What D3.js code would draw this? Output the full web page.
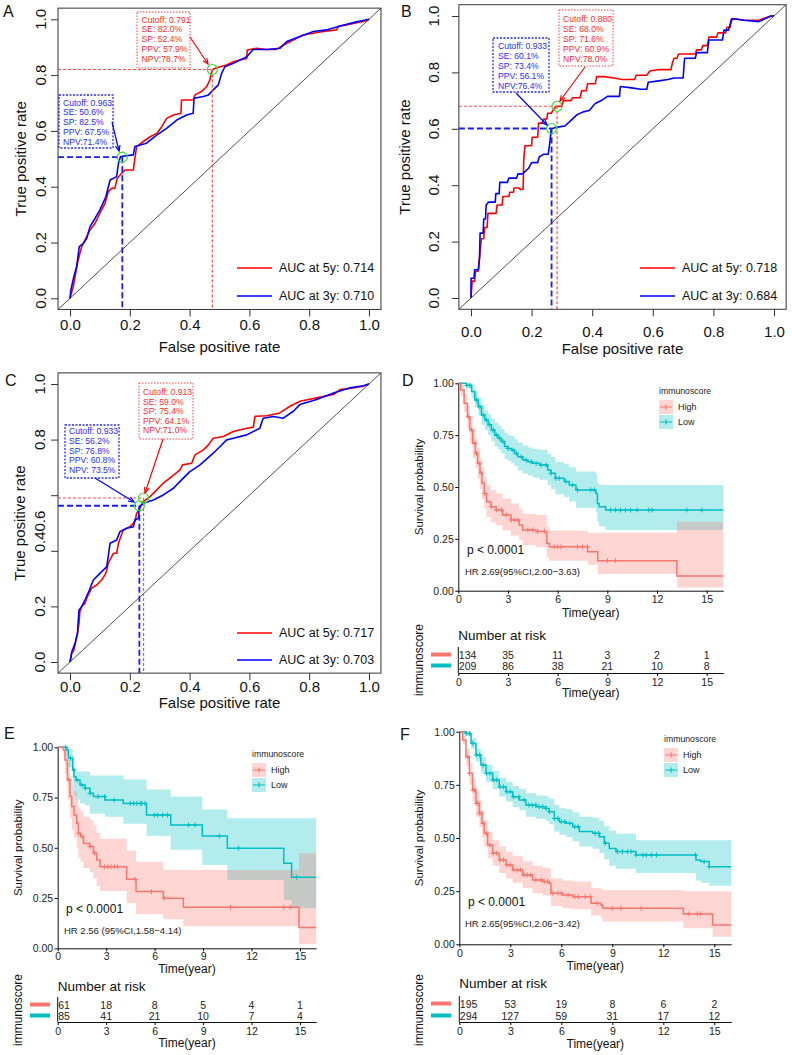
<!DOCTYPE html>
<html><head><meta charset="utf-8">
<script src="https://cdn.jsdelivr.net/npm/d3@7"></script>
<style>body{margin:0;background:#fff}svg text{font-family:"Liberation Sans",Arial,sans-serif}</style>
</head><body><script>
// ---------- DATA ----------
const rocTicks = [0, 0.2, 0.4, 0.6, 0.8, 1.0];
const survTicks = [0, 0.25, 0.5, 0.75, 1];
const timeTicks = [0, 3, 6, 9, 12, 15];

// ROC curves [FPR, TPR]
const rocA5 = [[0,0],[0.011,0.042],[0.017,0.078],[0.025,0.125],[0.033,0.161],[0.039,0.185],[0.05,0.209],[0.067,0.245],[0.084,0.269],[0.1,0.305],[0.117,0.34],[0.128,0.382],[0.139,0.394],[0.15,0.394],[0.158,0.43],[0.173,0.448],[0.184,0.46],[0.212,0.46],[0.217,0.502],[0.223,0.544],[0.245,0.562],[0.268,0.579],[0.29,0.591],[0.307,0.615],[0.323,0.645],[0.346,0.657],[0.371,0.663],[0.373,0.711],[0.412,0.711],[0.418,0.729],[0.44,0.741],[0.457,0.759],[0.468,0.783],[0.474,0.812],[0.479,0.822],[0.502,0.83],[0.524,0.836],[0.546,0.848],[0.569,0.854],[0.591,0.86],[0.593,0.89],[0.624,0.896],[0.658,0.892],[0.691,0.892],[0.714,0.908],[0.747,0.926],[0.78,0.944],[0.814,0.95],[0.847,0.956],[0.892,0.962],[0.897,0.974],[0.925,0.98],[0.959,0.988],[0.992,0.995],[1,1]];
const rocA3 = [[0,0],[0.003,0.03],[0.013,0.078],[0.022,0.113],[0.031,0.185],[0.045,0.197],[0.056,0.215],[0.067,0.257],[0.084,0.287],[0.1,0.317],[0.12,0.364],[0.134,0.424],[0.156,0.436],[0.162,0.484],[0.169,0.508],[0.212,0.514],[0.217,0.544],[0.256,0.556],[0.29,0.585],[0.323,0.609],[0.357,0.639],[0.39,0.657],[0.412,0.663],[0.415,0.717],[0.446,0.723],[0.463,0.729],[0.479,0.747],[0.496,0.765],[0.507,0.806],[0.518,0.83],[0.546,0.842],[0.591,0.866],[0.613,0.892],[0.658,0.892],[0.702,0.896],[0.725,0.92],[0.769,0.938],[0.814,0.956],[0.858,0.962],[0.903,0.976],[0.948,0.988],[0.975,0.995],[1,1]];
const rocB5 = [[0,0],[0.004,0.06],[0.012,0.06],[0.015,0.095],[0.023,0.095],[0.029,0.15],[0.034,0.21],[0.042,0.21],[0.045,0.25],[0.053,0.25],[0.056,0.30],[0.083,0.30],[0.086,0.33],[0.103,0.33],[0.105,0.36],[0.125,0.36],[0.128,0.375],[0.14,0.375],[0.142,0.39],[0.16,0.39],[0.162,0.385],[0.172,0.385],[0.174,0.49],[0.178,0.54],[0.2,0.54],[0.202,0.57],[0.22,0.57],[0.223,0.62],[0.235,0.62],[0.24,0.635],[0.25,0.635],[0.253,0.655],[0.265,0.655],[0.27,0.665],[0.282,0.68],[0.30,0.68],[0.305,0.70],[0.33,0.70],[0.335,0.71],[0.36,0.71],[0.365,0.735],[0.38,0.735],[0.385,0.76],[0.41,0.76],[0.415,0.785],[0.44,0.785],[0.47,0.78],[0.5,0.775],[0.54,0.775],[0.545,0.79],[0.58,0.79],[0.59,0.805],[0.62,0.81],[0.66,0.81],[0.665,0.835],[0.67,0.85],[0.68,0.85],[0.685,0.865],[0.74,0.865],[0.745,0.88],[0.76,0.88],[0.765,0.895],[0.78,0.895],[0.785,0.925],[0.81,0.925],[0.815,0.94],[0.84,0.94],[0.845,0.96],[0.855,0.96],[0.86,0.985],[0.87,0.99],[0.9,0.985],[0.95,0.985],[0.99,1],[1,1]];
const rocB3 = [[0,0],[0.0,0.07],[0.01,0.07],[0.012,0.10],[0.025,0.10],[0.028,0.14],[0.03,0.23],[0.04,0.23],[0.042,0.28],[0.048,0.28],[0.05,0.33],[0.058,0.34],[0.08,0.34],[0.082,0.37],[0.093,0.37],[0.095,0.41],[0.12,0.41],[0.125,0.425],[0.15,0.425],[0.155,0.44],[0.17,0.44],[0.19,0.46],[0.20,0.48],[0.22,0.48],[0.225,0.50],[0.24,0.51],[0.255,0.51],[0.26,0.55],[0.265,0.60],[0.28,0.605],[0.31,0.61],[0.33,0.63],[0.35,0.65],[0.37,0.66],[0.39,0.665],[0.41,0.69],[0.43,0.70],[0.45,0.715],[0.49,0.715],[0.493,0.75],[0.53,0.745],[0.56,0.74],[0.58,0.74],[0.585,0.765],[0.62,0.77],[0.65,0.775],[0.67,0.78],[0.70,0.78],[0.705,0.85],[0.74,0.85],[0.745,0.87],[0.78,0.87],[0.785,0.915],[0.83,0.915],[0.835,0.95],[0.85,0.95],[0.855,0.97],[0.86,0.99],[0.87,0.99],[0.9,0.985],[0.95,0.98],[0.99,1.0],[1,1]];
const rocC5 = [[0,0],[0.006,0.031],[0.013,0.043],[0.02,0.079],[0.025,0.103],[0.03,0.139],[0.033,0.181],[0.039,0.199],[0.05,0.211],[0.058,0.235],[0.072,0.265],[0.089,0.277],[0.106,0.295],[0.12,0.319],[0.128,0.355],[0.145,0.391],[0.156,0.391],[0.162,0.427],[0.178,0.475],[0.201,0.487],[0.217,0.505],[0.223,0.535],[0.234,0.553],[0.245,0.577],[0.268,0.595],[0.29,0.619],[0.312,0.643],[0.34,0.667],[0.368,0.691],[0.376,0.709],[0.407,0.715],[0.418,0.745],[0.446,0.763],[0.463,0.781],[0.479,0.805],[0.513,0.811],[0.546,0.829],[0.591,0.841],[0.613,0.845],[0.619,0.884],[0.658,0.886],[0.702,0.896],[0.736,0.92],[0.769,0.938],[0.825,0.95],[0.881,0.962],[0.903,0.98],[0.948,0.986],[0.981,0.992],[1,1]];
const rocC3 = [[0,0],[0.006,0.037],[0.017,0.067],[0.025,0.103],[0.03,0.187],[0.039,0.199],[0.05,0.223],[0.065,0.259],[0.078,0.295],[0.1,0.319],[0.123,0.343],[0.134,0.427],[0.156,0.439],[0.167,0.469],[0.19,0.481],[0.212,0.487],[0.217,0.511],[0.229,0.517],[0.232,0.559],[0.245,0.571],[0.279,0.583],[0.312,0.601],[0.346,0.625],[0.373,0.655],[0.401,0.685],[0.435,0.709],[0.479,0.751],[0.502,0.775],[0.524,0.799],[0.546,0.805],[0.591,0.817],[0.635,0.841],[0.646,0.877],[0.68,0.883],[0.713,0.877],[0.747,0.902],[0.769,0.926],[0.825,0.944],[0.881,0.968],[0.936,0.986],[0.981,0.994],[1,1]];

// cutoff points [FPR, TPR]
const cutA5 = [0.476, 0.820], cutA3 = [0.175, 0.506];
const cutB5 = [0.284, 0.680], cutB3 = [0.266, 0.601];
const cutC5 = [0.246, 0.590], cutC3 = [0.232, 0.562];

const annA5 = ["Cutoff: 0.791","SE: 82.0%","SP: 52.4%","PPV: 57.9%","NPV:78.7%"];
const annA3 = ["Cutoff: 0.963","SE: 50.6%","SP: 82.5%","PPV: 67.5%","NPV:71.4%"];
const annB5 = ["Cutoff: 0.880","SE: 68.0%","SP: 71.6%","PPV: 60.9%","NPV:78.0%"];
const annB3 = ["Cutoff: 0.933","SE: 60.1%","SP: 73.4%","PPV: 56.1%","NPV:76.4%"];
const annC5 = ["Cutoff: 0.913","SE: 59.0%","SP: 75.4%","PPV: 64.1%","NPV:71.0%"];
const annC3 = ["Cutoff: 0.933","SE: 56.2%","SP: 76.8%","PPV: 60.8%","NPV: 73.5%"];

const aucA = ["AUC at 5y: 0.714","AUC at 3y: 0.710"];
const aucB = ["AUC at 5y: 0.718","AUC at 3y: 0.684"];
const aucC = ["AUC at 5y: 0.717","AUC at 3y: 0.703"];

// KM: [time, surv, lower, upper]
const kmD_low = [[0,1,1,1],[0.5,0.99,0.975,1],[0.8,0.96,0.93,0.99],[1.0,0.92,0.885,0.96],[1.2,0.887,0.845,0.93],[1.4,0.847,0.80,0.895],[1.6,0.823,0.775,0.87],[1.8,0.80,0.75,0.85],[2.0,0.775,0.72,0.83],[2.2,0.751,0.695,0.81],[2.4,0.735,0.68,0.795],[2.6,0.719,0.66,0.78],[2.8,0.695,0.635,0.76],[3.0,0.686,0.625,0.75],[3.2,0.678,0.615,0.745],[3.4,0.662,0.60,0.73],[3.6,0.646,0.58,0.715],[3.9,0.630,0.565,0.70],[4.2,0.622,0.555,0.69],[4.5,0.614,0.545,0.685],[4.9,0.606,0.535,0.68],[5.4,0.582,0.51,0.66],[5.6,0.566,0.49,0.645],[5.86,0.542,0.465,0.62],[6.4,0.526,0.45,0.61],[6.7,0.51,0.43,0.595],[7.1,0.486,0.40,0.575],[8.3,0.469,0.38,0.56],[8.4,0.421,0.33,0.52],[8.5,0.405,0.31,0.51],[8.9,0.389,0.293,0.51],[16,0.389,0.293,0.51]];
const kmD_high = [[0,1,1,1],[0.15,0.968,0.94,0.995],[0.35,0.904,0.86,0.95],[0.55,0.839,0.78,0.895],[0.7,0.775,0.71,0.84],[0.87,0.711,0.64,0.78],[1.03,0.662,0.59,0.735],[1.17,0.614,0.54,0.69],[1.31,0.566,0.49,0.64],[1.43,0.518,0.44,0.595],[1.57,0.469,0.395,0.55],[1.71,0.429,0.355,0.51],[1.97,0.405,0.33,0.485],[2.28,0.389,0.315,0.47],[2.68,0.365,0.29,0.445],[3.18,0.341,0.265,0.42],[3.68,0.317,0.245,0.395],[3.89,0.293,0.22,0.37],[4.69,0.285,0.21,0.365],[5.34,0.228,0.16,0.31],[5.5,0.212,0.145,0.29],[7.81,0.188,0.125,0.28],[8.42,0.145,0.08,0.28],[13.2,0.071,0.016,0.333],[16,0.071,0.016,0.333]];
const censD_low = [0.5,0.7,1.1,1.3,1.5,1.7,1.9,2.1,2.3,2.5,2.7,3.0,3.3,3.5,3.8,4.1,4.4,4.7,5.0,5.3,5.6,5.9,6.1,6.5,6.9,7.2,8.0,8.2,9.2,9.5,9.8,10.1,10.4,10.8,11.5,11.7,13.8,14.7];
const censD_high = [0.6,0.8,1.0,1.1,1.25,1.4,1.6,2.0,2.3,2.6,2.9,3.2,3.4,3.6,4.2,4.5,4.8,5.2,5.8,6.0,6.2,7.2,7.5,7.8,9.0,9.5];

const kmE_low = [[0,1,1,1],[0.56,0.987,0.96,1],[0.66,0.945,0.90,0.99],[0.93,0.887,0.82,0.96],[1.01,0.854,0.76,0.90],[1.13,0.837,0.74,0.88],[1.38,0.813,0.72,0.88],[1.69,0.796,0.71,0.88],[2.0,0.771,0.67,0.86],[2.21,0.755,0.67,0.86],[2.93,0.738,0.655,0.86],[4.06,0.721,0.62,0.84],[5.5,0.663,0.56,0.79],[7.0,0.614,0.49,0.755],[8.95,0.559,0.415,0.69],[10.5,0.498,0.34,0.647],[14.0,0.423,0.24,0.647],[14.48,0.353,0.199,0.647],[16,0.353,0.199,0.647]];
const kmE_high = [[0,1,1,1],[0.35,0.987,0.96,1],[0.45,0.937,0.87,0.99],[0.6,0.837,0.74,0.93],[0.76,0.755,0.65,0.86],[0.87,0.705,0.59,0.82],[1.01,0.663,0.55,0.78],[1.18,0.622,0.50,0.74],[1.28,0.572,0.45,0.70],[1.42,0.556,0.43,0.685],[1.59,0.522,0.40,0.655],[2.0,0.506,0.38,0.64],[2.21,0.473,0.35,0.61],[2.41,0.439,0.31,0.575],[2.62,0.406,0.285,0.545],[4.27,0.343,0.225,0.485],[4.85,0.282,0.17,0.43],[6.54,0.249,0.145,0.39],[7.78,0.204,0.11,0.39],[14.94,0.104,0.02,0.473],[16,0.104,0.02,0.473]];
const censE_low = [0.5,0.8,1.0,1.2,1.5,1.7,2.0,2.5,2.9,3.5,4.5,4.7,4.9,5.1,5.2,5.4,6.0,6.2,6.5,6.8,8.1,8.5,10.0,11.2,14.8];
const censE_high = [0.7,1.3,1.5,2.0,2.3,2.9,3.1,3.3,3.5,3.7,4.8,5.8,6.6,10.7,14.0,14.4];

const kmF_low = [[0,1,1,1],[0.39,0.992,0.98,1],[0.69,0.945,0.92,0.97],[0.98,0.89,0.86,0.92],[1.27,0.843,0.805,0.88],[1.57,0.804,0.765,0.845],[1.96,0.773,0.73,0.815],[2.35,0.741,0.695,0.785],[2.75,0.718,0.67,0.765],[3.14,0.694,0.645,0.745],[3.53,0.679,0.63,0.73],[3.92,0.655,0.60,0.71],[4.51,0.647,0.59,0.70],[5.1,0.639,0.58,0.695],[5.29,0.624,0.565,0.685],[5.59,0.592,0.53,0.655],[5.88,0.577,0.515,0.64],[6.27,0.569,0.505,0.635],[6.67,0.553,0.485,0.62],[7.06,0.530,0.46,0.60],[7.84,0.522,0.45,0.595],[8.24,0.506,0.43,0.58],[8.53,0.475,0.40,0.555],[8.82,0.451,0.37,0.535],[9.22,0.436,0.355,0.52],[10.39,0.42,0.335,0.49],[13.92,0.397,0.30,0.49],[14.2,0.389,0.29,0.49],[14.7,0.365,0.275,0.49],[16,0.365,0.275,0.49]];
const kmF_high = [[0,1,1,1],[0.2,0.961,0.94,0.98],[0.39,0.882,0.84,0.92],[0.59,0.804,0.75,0.85],[0.78,0.726,0.67,0.78],[0.98,0.663,0.60,0.72],[1.18,0.616,0.55,0.675],[1.33,0.569,0.505,0.63],[1.47,0.522,0.46,0.585],[1.67,0.467,0.405,0.53],[1.96,0.428,0.37,0.49],[2.35,0.397,0.335,0.46],[2.75,0.373,0.31,0.435],[3.14,0.35,0.29,0.415],[3.73,0.326,0.265,0.39],[4.31,0.303,0.24,0.37],[4.9,0.295,0.23,0.36],[5.29,0.287,0.225,0.355],[5.39,0.24,0.18,0.31],[6.08,0.232,0.17,0.30],[6.67,0.224,0.165,0.295],[7.75,0.193,0.135,0.265],[8.33,0.185,0.125,0.26],[8.43,0.169,0.107,0.255],[13.18,0.143,0.075,0.25],[14.9,0.091,0.036,0.25],[16,0.091,0.036,0.25]];
const censF_low = [0.4,0.6,0.8,1.0,1.2,1.4,1.6,1.8,2.0,2.2,2.4,2.6,2.8,3.0,3.2,3.5,3.8,4.1,4.3,4.5,4.7,4.9,5.1,5.3,5.6,5.8,6.0,6.2,6.5,6.8,7.0,8.0,8.2,8.6,9.3,9.6,9.9,10.1,10.4,10.8,11.0,11.3,11.6,13.9,14.4,14.7];
const censF_high = [0.5,0.6,0.8,0.9,1.0,1.1,1.2,1.3,1.4,1.6,1.8,2.0,2.2,2.4,2.6,2.8,3.0,3.2,3.4,3.6,3.8,4.0,4.2,4.5,4.8,5.0,5.2,5.5,5.8,6.0,6.4,6.8,7.0,7.4,7.7,8.1,9.0,9.5,10.7,13.5,14.0,14.2];

const riskD_high = [134,35,11,3,2,1], riskD_low = [209,86,38,21,10,8];
const riskE_high = [61,18,8,5,4,1],   riskE_low = [85,41,21,10,7,4];
const riskF_high = [195,53,19,8,6,2], riskF_low = [294,127,59,31,17,12];

const hrD = "HR 2.69(95%CI,2.00\u22123.63)";
const hrE = "HR 2.56 (95%CI,1.58\u22124.14)";
const hrF = "HR 2.65(95%CI,2.06\u22123.42)";
const pText = "p < 0.0001";
const groupNames = ["High","Low"];

// ---------- DRAW ----------
const svg = d3.select("body").append("svg").attr("width",792).attr("height",1055);
const COL5 = "#ff0000", COL3 = "#0000ff";
const HIGH = "#F8766D", LOW = "#00BFC4";

function txt(g, x, y, s, size, opts = {}) {
  const t = g.append("text").attr("x", x).attr("y", y).attr("dy", "0.35em")
    .attr("font-size", size).attr("fill", opts.fill || "#111")
    .attr("text-anchor", opts.anchor || "start").text(s);
  if (opts.rotate) t.attr("x", null).attr("y", null).attr("transform", `translate(${x},${y}) rotate(-90)`);
  return t;
}

function arrow(g, x1, y1, x2, y2, col, w) {
  g.append("line").attr("x1", x1).attr("y1", y1).attr("x2", x2).attr("y2", y2)
    .attr("stroke", col).attr("stroke-width", w);
  const a = Math.atan2(y2 - y1, x2 - x1), h = 6;
  g.append("path").attr("d",
    `M${x2 - h * Math.cos(a - 0.4)},${y2 - h * Math.sin(a - 0.4)}L${x2},${y2}L${x2 - h * Math.cos(a + 0.4)},${y2 - h * Math.sin(a + 0.4)}`)
    .attr("fill", "none").attr("stroke", col).attr("stroke-width", w);
}

function annBox(g, lines, b, col, txtCol, sw, dash) {
  g.append("rect").attr("x", b.x).attr("y", b.y).attr("width", b.w).attr("height", b.h)
    .attr("fill", "#fff").attr("stroke", col).attr("stroke-width", sw).attr("stroke-dasharray", dash);
  lines.forEach((s, i) => txt(g, b.tx, b.ty + i * b.dy, s, 8.6, { fill: txtCol }));
}

function drawROC(c) {
  const g = svg.append("g");
  const x = d3.scaleLinear().domain([0, 1]).range([c.x0, c.x1]);
  const y = d3.scaleLinear().domain([0, 1]).range([c.y0, c.y1]);
  const L = x(-0.04), R = x(1.04), T = y(1.04), B = y(-0.04);
  const cid = "clip" + c.id;
  g.append("clipPath").attr("id", cid).append("rect").attr("x", L).attr("y", T).attr("width", R - L).attr("height", B - T);
  const pg = g.append("g").attr("clip-path", `url(#${cid})`);
  pg.append("line").attr("x1", x(-0.04)).attr("y1", y(-0.04)).attr("x2", x(1.04)).attr("y2", y(1.04))
    .attr("stroke", "#222").attr("stroke-width", 0.8);
  const line = d3.line().x(d => x(d[0])).y(d => y(d[1]));
  pg.append("path").datum(c.d5).attr("d", line).attr("fill", "none").attr("stroke", COL5).attr("stroke-width", 1.6).attr("stroke-linejoin", "round");
  pg.append("path").datum(c.d3).attr("d", line).attr("fill", "none").attr("stroke", COL3).attr("stroke-width", 1.6).attr("stroke-linejoin", "round");
  [[c.cut5, "#ff4a4a", 1.2, "3,2"], [c.cut3, "#1a1aff", 1.8, "6,3"]].forEach(([p, col, w, da]) => {
    pg.append("line").attr("x1", L).attr("x2", x(p[0])).attr("y1", y(p[1])).attr("y2", y(p[1]))
      .attr("stroke", col).attr("stroke-width", w).attr("stroke-dasharray", da);
    pg.append("line").attr("x1", x(p[0])).attr("x2", x(p[0])).attr("y1", y(p[1])).attr("y2", B)
      .attr("stroke", col).attr("stroke-width", w).attr("stroke-dasharray", da);
  });
  [c.cut5, c.cut3].forEach(p => pg.append("circle").attr("cx", x(p[0])).attr("cy", y(p[1])).attr("r", 5)
    .attr("fill", "none").attr("stroke", "#33dd33").attr("stroke-width", 1.2));
  g.append("rect").attr("x", L).attr("y", T).attr("width", R - L).attr("height", B - T)
    .attr("fill", "none").attr("stroke", "#333").attr("stroke-width", 1);
  // x axis
  const xa = g.append("g").attr("transform", `translate(0,${B})`)
    .call(d3.axisBottom(x).tickValues(rocTicks).tickFormat(d3.format(".1f")).tickSize(7).tickSizeOuter(0));
  xa.attr("font-family", null).attr("font-size", null);
  xa.select(".domain").remove();
  xa.selectAll("line").attr("stroke", "#333");
  xa.selectAll("text").attr("y", c.xlabY - B).attr("dy", "0.35em").attr("font-size", 15).attr("fill", "#111");
  // y axis ticks
  const ya = g.append("g").attr("transform", `translate(${L},0)`)
    .call(d3.axisLeft(y).tickValues(rocTicks).tickFormat("").tickSize(7).tickSizeOuter(0));
  ya.select(".domain").remove();
  ya.selectAll("line").attr("stroke", "#333");
  rocTicks.forEach(v => txt(g, c.ylabX, y(v) + ((c.yShift && c.yShift[v]) || 0), d3.format(".1f")(v), 15, { anchor: "middle", rotate: true }));
  txt(g, c.ytitleX, (y(0) + y(1)) / 2, "True positive rate", 15, { anchor: "middle", rotate: true });
  txt(g, (x(0) + x(1)) / 2, c.xtitleY, "False positive rate", 15, { anchor: "middle" });
  txt(g, c.labX, c.labY, c.label, 16);
  // annotation boxes + arrows
  annBox(g, c.ann5, c.box5, "#ff4040", "#ff2a2a", 1, "1.5,1.5");
  annBox(g, c.ann3, c.box3, "#2a2aff", "#2a2aff", 1.3, "2,1.5");
  arrow(g, c.arr5[0], c.arr5[1], c.arr5[2], c.arr5[3], COL5, 1.2);
  arrow(g, c.arr3[0], c.arr3[1], c.arr3[2], c.arr3[3], COL3, 1.2);
  // legend
  [[COL5, c.auc[0], c.legY[0]], [COL3, c.auc[1], c.legY[1]]].forEach(([col, s, ly]) => {
    g.append("line").attr("x1", c.legX).attr("x2", c.legX + 35).attr("y1", ly).attr("y2", ly).attr("stroke", col).attr("stroke-width", 1.6);
    txt(g, c.legX + 42, ly, s, 12.5);
  });
}

function stepVal(data, t) {
  let s = data[0][1];
  for (const d of data) { if (d[0] <= t) s = d[1]; else break; }
  return s;
}

function drawKM(c) {
  const g = svg.append("g");
  const x = d3.scaleLinear().domain([0, 15]).range([c.x0, c.x15]);
  const y = d3.scaleLinear().domain([0, 1]).range([c.y0, c.y1]);
  const groups = [{ d: c.low, col: LOW, cens: c.censLow }, { d: c.high, col: HIGH, cens: c.censHigh }];
  const area = d3.area().curve(d3.curveStepAfter).x(d => x(d[0])).y0(d => y(d[2])).y1(d => y(d[3]));
  groups.forEach(gr => g.append("path").datum(gr.d).attr("d", area).attr("fill", gr.col).attr("fill-opacity", 0.3));
  const line = d3.line().curve(d3.curveStepAfter).x(d => x(d[0])).y(d => y(d[1]));
  groups.forEach(gr => {
    g.append("path").datum(gr.d).attr("d", line).attr("fill", "none").attr("stroke", gr.col).attr("stroke-width", 1.5);
    const cp = gr.cens.map(t => `M${x(t) - 2.5},${y(stepVal(gr.d, t))}h5M${x(t)},${y(stepVal(gr.d, t)) - 2.5}v5`).join("");
    g.append("path").attr("d", cp).attr("stroke", gr.col).attr("stroke-width", 1).attr("fill", "none");
  });
  // axes
  const ya = g.append("g").attr("transform", `translate(${x(0)},0)`)
    .call(d3.axisLeft(y).tickValues(survTicks).tickFormat(d3.format(".2f")).tickSize(3).tickSizeOuter(0).tickPadding(1.5));
  ya.attr("font-family", null).attr("font-size", null);
  ya.selectAll("text").attr("font-size", 10.5).attr("fill", "#222");
  ya.select(".domain").attr("stroke", "#111").attr("stroke-width", 1);
  const xs = d3.scaleLinear().domain([0, 16]).range([x(0), x(16)]);
  const xa = g.append("g").attr("transform", `translate(0,${y(0)})`)
    .call(d3.axisBottom(xs).tickValues(timeTicks).tickSize(3).tickSizeOuter(0));
  xa.attr("font-family", null).attr("font-size", null);
  xa.selectAll("text").attr("font-size", 10.5).attr("fill", "#222").attr("y", c.xtickOff).attr("dy", "0.35em");
  xa.select(".domain").attr("stroke", "#111").attr("stroke-width", 1);
  txt(g, c.ytX, (y(0) + y(1)) / 2, "Survival probability", 11.5, { anchor: "middle", rotate: true });
  txt(g, x(8), c.xtY, "Time(year)", 12, { anchor: "middle" });
  txt(g, c.pX, c.pY, pText, 12);
  txt(g, c.hrX, c.hrY, c.hr, 9.5, { fill: "#222" });
  txt(g, c.labX, c.labY, c.label, 16);
  // legend
  txt(g, c.legX, c.legY, "immunoscore", 8.7, { fill: "#222" });
  [[HIGH, groupNames[0], c.legY + 16], [LOW, groupNames[1], c.legY + 31]].forEach(([col, s, ky]) => {
    g.append("rect").attr("x", c.legX).attr("y", ky - 7).attr("width", 14).attr("height", 14).attr("fill", col).attr("fill-opacity", 0.3);
    g.append("path").attr("d", `M${c.legX + 1},${ky}h12M${c.legX + 7},${ky - 2.5}v5`).attr("stroke", col).attr("stroke-width", 1.2);
    txt(g, c.legX + 19, ky, s, 9, { fill: "#222" });
  });
  // risk table
  txt(g, x(0), c.nrY, "Number at risk", 13.5);
  [[c.riskHigh, c.r1Y, HIGH], [c.riskLow, c.r2Y, LOW]].forEach(([vals, ry, col]) => {
    vals.forEach((v, i) => txt(g, i === 0 ? x(0) + 0.5 : x(timeTicks[i]), ry, String(v), 10.5, { anchor: i === 0 ? "start" : "middle", fill: "#222" }));
    g.append("line").attr("x1", c.barX[0]).attr("x2", c.barX[1]).attr("y1", ry - 0.5).attr("y2", ry - 0.5).attr("stroke", col).attr("stroke-width", 4);
  });
  g.append("line").attr("x1", x(0)).attr("x2", x(0)).attr("y1", c.r1Y - 8).attr("y2", c.raY).attr("stroke", "#111").attr("stroke-width", 1);
  const ra = g.append("g").attr("transform", `translate(0,${c.raY})`)
    .call(d3.axisBottom(xs).tickValues(timeTicks).tickSize(3).tickSizeOuter(0));
  ra.attr("font-family", null).attr("font-size", null);
  ra.selectAll("text").attr("font-size", 10.5).attr("fill", "#222").attr("y", c.rtY - c.raY).attr("dy", "0.35em");
  ra.select(".domain").attr("stroke", "#111").attr("stroke-width", 1);
  txt(g, x(8), c.rtTY, "Time(year)", 12, { anchor: "middle" });
  txt(g, c.imX, c.imY, "immunoscore", 12, { anchor: "middle", rotate: true });
}

drawROC({ id: "A", label: "A", labX: 3, labY: 11, x0: 70, x1: 369, y0: 298.3, y1: 19.3,
  d5: rocA5, d3: rocA3, cut5: cutA5, cut3: cutA3, ann5: annA5, ann3: annA3, auc: aucA,
  xlabY: 325, ylabX: 41, ytitleX: 21, xtitleY: 347,
  box5: { x: 137, y: 12, w: 53, h: 56, tx: 141.5, ty: 19.5, dy: 9.9 },
  box3: { x: 59, y: 95, w: 54, h: 53, tx: 63, ty: 102.5, dy: 9.9 },
  arr5: [190, 37, 208, 64], arr3: [112, 122, 119, 151],
  legX: 237, legY: [268, 296] });

drawROC({ id: "B", label: "B", labX: 401, labY: 11, x0: 471, x1: 774, y0: 298, y1: 16,
  d5: rocB5, d3: rocB3, cut5: cutB5, cut3: cutB3, ann5: annB5, ann3: annB3, auc: aucB,
  xlabY: 332, ylabX: 434, ytitleX: 405, xtitleY: 349,
  box5: { x: 559, y: 10, w: 54, h: 56, tx: 563, ty: 19, dy: 10 },
  box3: { x: 493, y: 38, w: 56, h: 54, tx: 498, ty: 46, dy: 10 },
  arr5: [585, 67, 560, 101], arr3: [516, 93, 547, 125],
  legX: 640, legY: [268, 296] });

drawROC({ id: "C", label: "C", labX: 5, labY: 380, x0: 70, x1: 369, y0: 662, y1: 384,
  d5: rocC5, d3: rocC3, cut5: cutC5, cut3: cutC3, ann5: annC5, ann3: annC3, auc: aucC,
  xlabY: 687, ylabX: 40, ytitleX: 20, xtitleY: 703, yShift: { 0.6: 26, 0.4: -9 },
  box5: { x: 139, y: 383, w: 54, h: 56, tx: 143, ty: 392, dy: 9.6 },
  box3: { x: 65, y: 425, w: 54, h: 53, tx: 69, ty: 431, dy: 9.8 },
  arr5: [163, 439, 145, 493], arr3: [95, 478, 134, 502],
  legX: 237, legY: [633, 660] });

drawKM({ label: "D", labX: 402, labY: 380, x0: 458.3, x15: 706.7, y0: 590.7, y1: 383.3,
  low: kmD_low, high: kmD_high, censLow: censD_low, censHigh: censD_high, hr: hrD,
  riskHigh: riskD_high, riskLow: riskD_low,
  xtickOff: 8.5, ytX: 419, xtY: 613, pX: 467, pY: 550, hrX: 465, hrY: 572, legX: 659, legY: 391,
  nrY: 635, r1Y: 655, r2Y: 666, raY: 673, rtY: 682, rtTY: 693, barX: [431, 451], imX: 419, imY: 660 });

drawKM({ label: "E", labX: 4, labY: 733, x0: 57.7, x15: 300, y0: 948.3, y1: 747.3,
  low: kmE_low, high: kmE_high, censLow: censE_low, censHigh: censE_high, hr: hrE,
  riskHigh: riskE_high, riskLow: riskE_low,
  xtickOff: 8.4, ytX: 18, xtY: 969, pX: 66, pY: 909, hrX: 64, hrY: 931, legX: 252, legY: 754,
  nrY: 986, r1Y: 1005, r2Y: 1016, raY: 1022, rtY: 1031, rtTY: 1043, barX: [30, 50], imX: 18, imY: 1010 });

drawKM({ label: "F", labX: 400, labY: 734, x0: 459.3, x15: 714.3, y0: 944.3, y1: 731.7,
  low: kmF_low, high: kmF_high, censLow: censF_low, censHigh: censF_high, hr: hrF,
  riskHigh: riskF_high, riskLow: riskF_low,
  xtickOff: 8.6, ytX: 419, xtY: 966, pX: 468, pY: 902, hrX: 465, hrY: 924, legX: 664, legY: 739,
  nrY: 983, r1Y: 1004, r2Y: 1016, raY: 1022, rtY: 1031, rtTY: 1044, barX: [431, 451], imX: 419, imY: 1010 });
</script></body></html>
